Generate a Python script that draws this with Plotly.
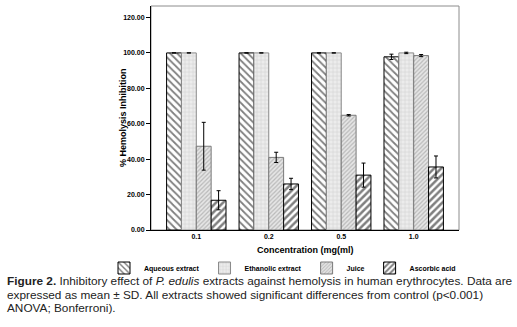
import plotly.graph_objects as go

categories = ["0.1", "0.2", "0.5", "1.0"]
series_names = ["Aqueous extract", "Ethanolic extract", "Juice", "Ascorbic acid"]
aqueous = [100.0, 100.0, 100.0, 97.8]
aqueous_sd = [0.0, 0.0, 0.0, 1.5]
ethanolic = [100.0, 100.0, 100.0, 100.0]
ethanolic_sd = [0.0, 0.0, 0.0, 0.4]
juice = [47.3, 41.0, 64.8, 98.5]
juice_sd = [13.5, 2.9, 0.4, 0.6]
ascorbic = [16.8, 26.0, 31.0, 35.6]
ascorbic_sd = [5.4, 3.2, 6.8, 6.2]
y_ticks = [0, 20, 40, 60, 80, 100, 120]
y_tick_labels = ["0.00", "20.00", "40.00", "60.00", "80.00", "100.00", "120.00"]

styles = [
    dict(shape="\\", fg="#000000", bg="#ffffff", size=5, sol=0.35, line="#000000"),
    dict(shape="+", fg="#c4c4c4", bg="#ececec", size=4, sol=0.35, line="#8a8a8a"),
    dict(shape="/", fg="#8c8c8c", bg="#e6e6e6", size=3, sol=0.4, line="#7a7a7a"),
    dict(shape="/", fg="#000000", bg="#ffffff", size=5, sol=0.5, line="#000000"),
]
values = [aqueous, ethanolic, juice, ascorbic]
sds = [aqueous_sd, ethanolic_sd, juice_sd, ascorbic_sd]

fig = go.Figure()
for name, vals, sd, st in zip(series_names, values, sds, styles):
    fig.add_trace(go.Bar(
        x=categories, y=vals, name="<b>%s</b>" % name,
        marker=dict(color=st["bg"], line=dict(color=st["line"], width=1),
                    pattern=dict(shape=st["shape"], fgcolor=st["fg"], bgcolor=st["bg"],
                                 size=st["size"], solidity=st["sol"], fillmode="overlay")),
        error_y=dict(type="data", array=sd, visible=True, color="#000000", thickness=1, width=2),
    ))

fig.add_shape(type="rect", xref="paper", yref="paper", x0=0, x1=1, y0=0, y1=1,
              line=dict(color="#8c8c8c", width=1), layer="below")

PW, PH = 308.0, 224.0  # plot area size in px (for placing texts in the margins)

fig.update_layout(
    width=517, height=327,
    margin=dict(l=151, r=58, t=6, b=97, autoexpand=False),
    paper_bgcolor="white", plot_bgcolor="white",
    barmode="group", bargap=0.18, bargroupgap=0,
    font=dict(family="Liberation Sans", color="#000000"),
    showlegend=True,
    legend=dict(orientation="h", x=(104 - 151) / PW, y=(230 - 268) / PH,
                xanchor="left", yanchor="middle",
                font=dict(size=7, family="Liberation Sans"), itemwidth=30,
                bgcolor="rgba(0,0,0,0)", tracegroupgap=0),
    xaxis=dict(range=[-0.625, 3.625], showgrid=False, showline=True, linecolor="#000000",
               linewidth=1, ticks="", tickfont=dict(size=7, family="Liberation Sans"),
               tickvals=categories, ticktext=["<b>%s</b>" % c for c in categories]),
    yaxis=dict(range=[0, 126.5], showgrid=False, showline=True, linecolor="#000000",
               linewidth=1, ticks="outside", ticklen=4, tickcolor="#000000",
               tickvals=y_ticks, ticktext=["<b>%s</b>" % t for t in y_tick_labels],
               tickfont=dict(size=7, family="Liberation Sans"), zeroline=False),
)

# axis titles
fig.add_annotation(text="<b>Concentration (mg(ml)</b>", xref="paper", yref="paper",
                   x=0.5, y=(230 - 250) / PH, xanchor="center", yanchor="middle",
                   showarrow=False, font=dict(size=9, family="Liberation Sans", color="#000000"))
fig.add_annotation(text="<b>% Hemolysis Inhibition</b>", xref="paper", yref="paper",
                   x=(123 - 151) / PW, y=0.5, xanchor="center", yanchor="middle", textangle=-90,
                   showarrow=False, font=dict(size=9, family="Liberation Sans", color="#000000"))

caption_lines = [
    "<b>Figure 2.</b> Inhibitory effect of <i>P. edulis</i> extracts against hemolysis in human erythrocytes. Data are",
    "expressed as mean ± SD. All extracts showed significant differences from control (p&lt;0.001)",
    "ANOVA; Bonferroni).",
]
for i, line in enumerate(caption_lines):
    fig.add_annotation(text=line, xref="paper", yref="paper", x=(5 - 151) / PW,
                       y=(230 - 281 - i * 13.5) / PH,
                       xanchor="left", yanchor="middle", showarrow=False,
                       font=dict(size=11.8, family="Liberation Sans", color="#222222"), align="left")

fig.write_html("out.html", config={"displayModeBar": False},
               post_script="document.body.style.margin='0';")
